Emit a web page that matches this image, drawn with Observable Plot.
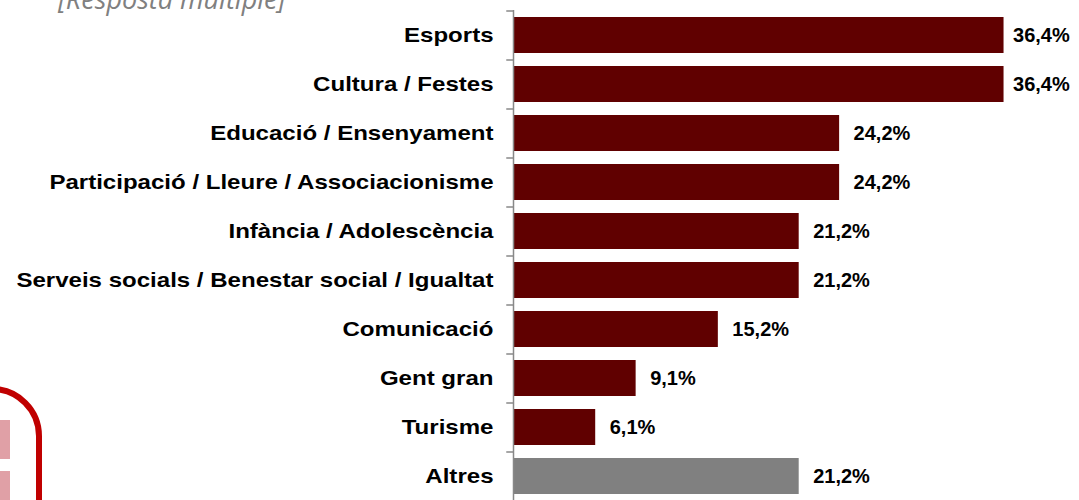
<!DOCTYPE html>
<html><head><meta charset="utf-8">
<script src="https://cdn.jsdelivr.net/npm/d3@7"></script>
<script src="https://cdn.jsdelivr.net/npm/@observablehq/plot@0.6"></script>
<style>
body{margin:0;background:#fff;}
#wrap{position:relative;width:1079px;height:500px;overflow:hidden;}
#sub{position:absolute;left:58px;top:-15px;font:italic 27px/27px "Open Sans",sans-serif;color:#808080;white-space:nowrap;}
.deco{position:absolute;}
</style>
</head><body><div id="wrap">
<div class="deco" style="left:-60px;top:386px;width:90px;height:200px;border:6px solid #c00000;border-radius:50px;"></div>
<div class="deco" style="left:0;top:420px;width:10px;height:39px;background:#e0a0a6;"></div>
<div class="deco" style="left:0;top:471px;width:10px;height:40px;background:#e0a0a6;"></div>
<div id="chart"></div>
<div id="sub">[Resposta múltiple]</div>
</div>
<script>
const categories = ["Esports","Cultura / Festes","Educació / Ensenyament","Participació / Lleure / Associacionisme","Infància / Adolescència","Serveis socials / Benestar social / Igualtat","Comunicació","Gent gran","Turisme","Altres"];
const values = [36.4, 36.4, 24.2, 24.2, 21.2, 21.2, 15.2, 9.1, 6.1, 21.2];
const groups = ["area","area","area","area","area","area","area","area","area","altres"];
const groupNames = ["area","altres"];
const groupColors = ["#600000","#808080"];

const data = categories.map((c, i) => ({cat: c, value: values[i], group: groups[i]}));
const fmt = v => v.toFixed(1).replace(".", ",") + "%";
const xMax = 42;
// labels that would overflow the right edge are nudged inward (as in the original)
const fits = d => d.value < 33;

const chart = Plot.plot({
  width: 1079, height: 500,
  marginLeft: 513, marginRight: 0, marginTop: 10, marginBottom: 0,
  style: {fontFamily: "Arial, 'Liberation Sans', sans-serif", fontSize: "20px", fontWeight: "bold", color: "#000", background: "transparent"},
  x: {domain: [0, xMax], axis: null},
  y: {domain: categories, paddingInner: 0.27, paddingOuter: 0.135, label: null},
  color: {domain: groupNames, range: groupColors},
  marks: [
    Plot.barX(data, {x: "value", y: "cat", fill: "group"}),
    Plot.ruleX([0], {stroke: "#888", strokeWidth: 1.5}),
    Plot.ruleY(categories, {y: d => d, x1: -0.5, x2: 0, dy: -24.5, stroke: "#888", strokeWidth: 1.5}),
    Plot.axisY({tickSize: 0, tickPadding: 20, fontSize: 21, fontWeight: "bold", label: null}),
    Plot.text(data.filter(fits), {x: "value", y: "cat", text: d => fmt(d.value), dx: 14, textAnchor: "start", fontSize: 20, fontWeight: "bold", fill: "#000"}),
    Plot.text(data.filter(d => !fits(d)), {x: "value", y: "cat", text: d => fmt(d.value), dx: 9, textAnchor: "start", fontSize: 20, fontWeight: "bold", fill: "#000"})
  ]
});
document.getElementById("chart").appendChild(chart);
// the original category labels are set slightly wider than normal
chart.querySelectorAll('g[aria-label="y-axis tick label"] text').forEach(t => {
  const len = t.getComputedTextLength();
  t.setAttribute("textLength", (len * 1.145).toFixed(1));
  t.setAttribute("lengthAdjust", "spacingAndGlyphs");
});
</script>
</body></html>
